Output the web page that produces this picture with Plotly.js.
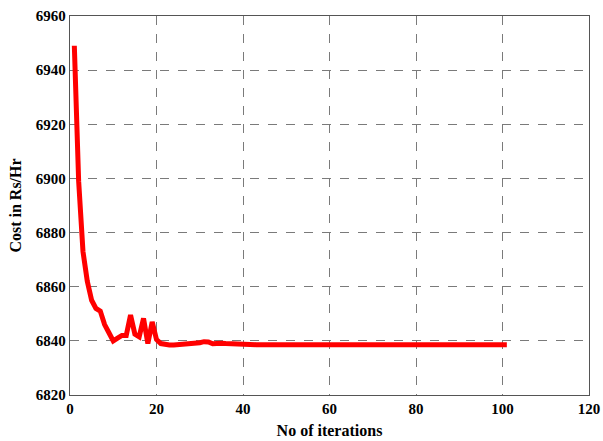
<!DOCTYPE html>
<html>
<head>
<meta charset="utf-8">
<script src="https://cdn.plot.ly/plotly-3.0.1.min.js"></script>
<style>html,body{margin:0;padding:0;background:#fff;}#chart{width:603px;height:441px;}</style>
</head>
<body>
<div id="chart"></div>
<script>
const iterations = [];
for (let i = 1; i <= 101; i++) iterations.push(i);

const costHead = [6949, 6899, 6873, 6862, 6855, 6852, 6851, 6846, 6843, 6840,
  6841, 6842, 6842, 6849.5, 6842.5, 6841.5, 6848.3, 6839, 6847, 6840.5,
  6839, 6838.6, 6838.5, 6838.5, 6838.6, 6838.7, 6839, 6839.2, 6839, 6839.3,
  6839.7, 6839.6, 6838.9, 6839.1, 6839.1, 6839, 6838.9, 6838.7];
const costTailValue = 6838.6;
const cost = costHead.concat(new Array(101 - costHead.length).fill(costTailValue));

const xTicks = [0, 20, 40, 60, 80, 100, 120];
const yTicks = [6820, 6840, 6860, 6880, 6900, 6920, 6940, 6960];

const fontFam = '"Liberation Serif", "Times New Roman", serif';

Plotly.newPlot('chart', [{
  x: iterations, y: cost, type: 'scatter', mode: 'lines',
  line: {color: '#ff0000', width: 5}
}], {
  width: 603, height: 441,
  margin: {l: 70, r: 14, t: 16, b: 46},
  paper_bgcolor: '#ffffff', plot_bgcolor: '#ffffff',
  showlegend: false,
  font: {family: fontFam, size: 15, color: '#000'},
  xaxis: {
    range: [0, 120], tickvals: xTicks, ticktext: xTicks.map(String),
    showgrid: true, gridcolor: '#7a7a7a', griddash: 'dash', gridwidth: 1,
    zeroline: false, showline: true, linecolor: '#555', linewidth: 1.3, mirror: true,
    ticks: '', tickfont: {family: fontFam, size: 15, color: '#000', weight: 'bold'},
    title: {text: '<b>No of iterations</b>', font: {family: fontFam, size: 16, color: '#000'}, standoff: 8}
  },
  yaxis: {
    range: [6820, 6960], tickvals: yTicks, ticktext: yTicks.map(String),
    showgrid: true, gridcolor: '#7a7a7a', griddash: 'dash', gridwidth: 1,
    zeroline: false, showline: true, linecolor: '#555', linewidth: 1.3, mirror: true,
    ticks: '', tickfont: {family: fontFam, size: 15, color: '#000', weight: 'bold'},
    title: {text: '<b>Cost in Rs/Hr</b>', font: {family: fontFam, size: 16, color: '#000'}, standoff: 10}
  }
}, {displayModeBar: false, staticPlot: true});
</script>
</body>
</html>
